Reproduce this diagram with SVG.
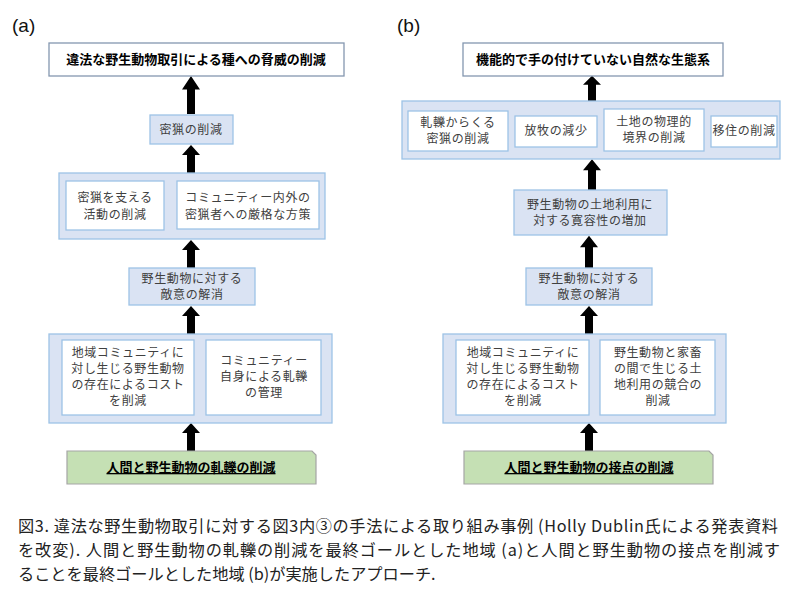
<svg xmlns="http://www.w3.org/2000/svg" width="800" height="594" viewBox="0 0 800 594">
<style>
text{font-family:"Noto Sans CJK JP","Noto Sans",sans-serif;}
.t{font-size:12px;fill:#404040;text-anchor:middle;letter-spacing:0.6px}
.b{font-size:13px;font-weight:bold;fill:#000;text-anchor:middle}
.top{fill:#fff;stroke:#8497b0;stroke-width:1.3}
.grp{fill:#dae3f3;stroke:#9dc3e6;stroke-width:1.3}
.in{fill:#fff;stroke:#9dc3e6;stroke-width:1.3}
.g{fill:#c5e0b4;stroke:#a5a5a5;stroke-width:1.2}
.cap{font-size:16.2px;fill:#222}
.lab{font-size:19px;fill:#111;font-family:"Liberation Sans",sans-serif}
</style>
<defs>
<path id="ar" d="M-4,0 V-18 H-9 L0,-28 L9,-18 H4 V0 Z" fill="#000"/>
</defs>
<rect width="800" height="594" fill="#fff"/>
<text class="lab" x="12" y="32">(a)</text>
<text class="lab" x="397" y="32">(b)</text>
<g id="connectors">
<use href="#ar" transform="translate(191,114) scale(1,1.36)"/>
<use href="#ar" transform="translate(191,173)"/>
<use href="#ar" transform="translate(191,268)"/>
<use href="#ar" transform="translate(191,334)"/>
<use href="#ar" transform="translate(191,451)"/>
<use href="#ar" transform="translate(592,101) scale(1,0.9)"/>
<use href="#ar" transform="translate(592,190) scale(1,1.1)"/>
<use href="#ar" transform="translate(589,268) scale(1,1.15)"/>
<use href="#ar" transform="translate(589,334)"/>
<use href="#ar" transform="translate(589,451)"/>
</g>
<g id="a-goal"><rect class="top" x="49" y="43" width="295" height="33"/><text class="b" x="196" y="64">違法な野生動物取引による種への脅威の削減</text></g>
<g id="a-poach"><rect class="grp" x="150" y="115" width="83" height="29"/><text class="t" x="191" y="134">密猟の削減</text></g>
<g id="a-grp1"><rect class="grp" x="59" y="173" width="266" height="66"/>
<rect class="in" x="66" y="181" width="98" height="49"/><text class="t" x="115" y="202">密猟を支える</text><text class="t" x="115" y="219">活動の削減</text>
<rect class="in" x="177" y="181" width="142" height="48"/><text class="t" x="248" y="202" letter-spacing="0.3">コミュニティー内外の</text><text class="t" x="248" y="219" letter-spacing="0.3">密猟者への厳格な方策</text></g>
<g id="a-hostility"><rect class="grp" x="129" y="268" width="126" height="37"/><text class="t" x="192" y="283">野生動物に対する</text><text class="t" x="192" y="299">敵意の解消</text></g>
<g id="a-grp2"><rect class="grp" x="49" y="334" width="283" height="89"/>
<rect class="in" x="62" y="340" width="132" height="75"/>
<text class="t" x="128" y="357">地域コミュニティに</text><text class="t" x="128" y="373">対し生じる野生動物</text><text class="t" x="128" y="389">の存在によるコスト</text><text class="t" x="128" y="405">を削減</text>
<rect class="in" x="206" y="340" width="115" height="75"/>
<text class="t" x="264" y="365">コミュニティー</text><text class="t" x="264" y="381">自身による軋轢</text><text class="t" x="264" y="397">の管理</text></g>
<g id="a-start"><path class="g" d="M67,451 H312 L316,455 V484 H67 Z"/><text class="b" x="191" y="472" text-decoration="underline">人間と野生動物の軋轢の削減</text></g>

<g id="b-goal"><rect class="top" x="463" y="43" width="260" height="33"/><text class="b" x="593" y="64">機能的で手の付けていない自然な生態系</text></g>
<g id="b-grp1"><rect class="grp" x="402" y="101" width="378" height="58"/>
<rect class="in" x="408" y="111" width="100" height="40"/><text class="t" x="458" y="127">軋轢からくる</text><text class="t" x="458" y="143">密猟の削減</text>
<rect class="in" x="515" y="116" width="82" height="31"/><text class="t" x="556" y="135">放牧の減少</text>
<rect class="in" x="604" y="109" width="100" height="42"/><text class="t" x="654" y="126">土地の物理的</text><text class="t" x="654" y="142">境界の削減</text>
<rect class="in" x="711" y="116" width="66" height="31"/><text class="t" x="744" y="135" letter-spacing="0">移住の削減</text></g>
<g id="b-tolerance"><rect class="grp" x="514" y="190" width="153" height="45"/><text class="t" x="590" y="209">野生動物の土地利用に</text><text class="t" x="590" y="225">対する寛容性の増加</text></g>
<g id="b-hostility"><rect class="grp" x="526" y="268" width="126" height="37"/><text class="t" x="589" y="283">野生動物に対する</text><text class="t" x="589" y="299">敵意の解消</text></g>
<g id="b-grp2"><rect class="grp" x="443" y="334" width="283" height="89"/>
<rect class="in" x="456" y="340" width="133" height="75"/>
<text class="t" x="523" y="357">地域コミュニティに</text><text class="t" x="523" y="373">対し生じる野生動物</text><text class="t" x="523" y="389">の存在によるコスト</text><text class="t" x="523" y="405">を削減</text>
<rect class="in" x="600" y="340" width="115" height="75"/>
<text class="t" x="658" y="357">野生動物と家畜</text><text class="t" x="658" y="373">の間で生じる土</text><text class="t" x="658" y="389">地利用の競合の</text><text class="t" x="658" y="405">削減</text></g>
<g id="b-start"><path class="g" d="M464,451 H709 L713,455 V484 H464 Z"/><text class="b" x="589" y="472" text-decoration="underline">人間と野生動物の接点の削減</text></g>

<text class="cap" x="18" y="532" textLength="760">図3. 違法な野生動物取引に対する図3内③の手法による取り組み事例 (Holly Dublin氏による発表資料</text>
<text class="cap" x="18" y="556" textLength="762">を改変). 人間と野生動物の軋轢の削減を最終ゴールとした地域 (a)と人間と野生動物の接点を削減す</text>
<text class="cap" x="18" y="580">ることを最終ゴールとした地域 (b)が実施したアプローチ.</text>
</svg>
